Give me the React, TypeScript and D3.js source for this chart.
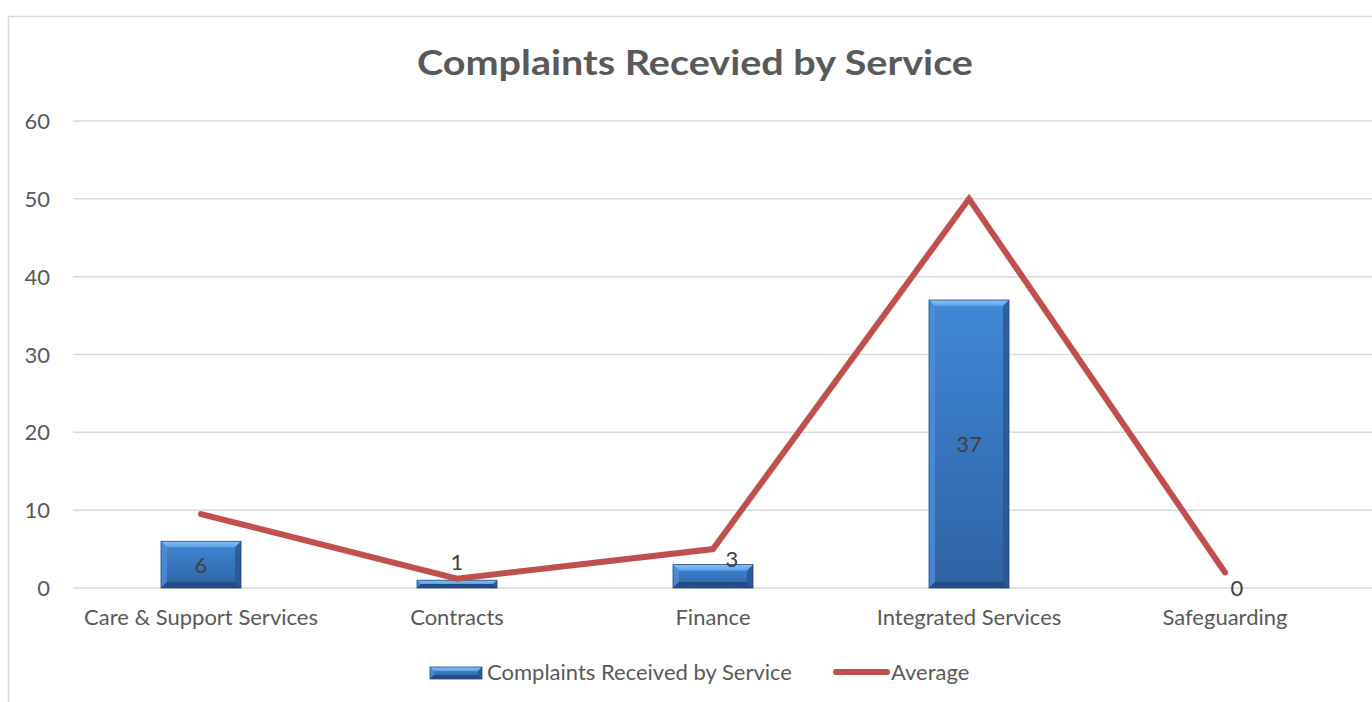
import React from "react";
import * as d3 from "d3";

const categories = ["Care & Support Services", "Contracts", "Finance", "Integrated Services", "Safeguarding"];
const complaints = [6, 1, 3, 37, 0];
const average = [9.5, 1.2, 5, 50, 2];
const yTicks = [0, 10, 20, 30, 40, 50, 60];
const title = "Complaints Recevied by Service";
const legendLabels = ["Complaints Received by Service", "Average"];

const W = 1372;
const H = 702;
const FONT = "Lato, 'Open Sans', sans-serif";
const TEXT = "#595959";

function Bevel({ x0, y0, w, h, b }: { x0: number; y0: number; w: number; h: number; b: number }) {
  const y1 = y0 + h;
  return (
    <g>
      <rect x={x0} y={y0} width={w} height={h} fill="url(#barG)" />
      <polygon points={`${x0},${y0} ${x0 + w},${y0} ${x0 + w - b},${y0 + b} ${x0 + b},${y0 + b}`} fill="url(#bevTop)" />
      <polygon points={`${x0},${y0} ${x0 + b},${y0 + b} ${x0 + b},${y1 - b} ${x0},${y1}`} fill="#4d8fd8" opacity={0.8} />
      <polygon points={`${x0 + w},${y0} ${x0 + w - b},${y0 + b} ${x0 + w - b},${y1 - b} ${x0 + w},${y1}`} fill="#2a5590" opacity={0.8} />
      <polygon points={`${x0},${y1} ${x0 + b},${y1 - b} ${x0 + w - b},${y1 - b} ${x0 + w},${y1}`} fill="#244d85" />
      <rect x={x0} y={y0} width={w} height={h} fill="none" stroke="#1f4a80" strokeWidth={0.8} />
    </g>
  );
}

export default function App() {
  const left = 73, right = 1353, top = 121, bottom = 588;
  const x = d3.scaleBand<string>().domain(categories).range([left, right]).padding(0);
  const y = d3.scaleLinear().domain([0, 60]).range([bottom, top]);
  const bw = x.bandwidth() * 0.3125;
  const cx = (c: string) => (x(c) as number) + x.bandwidth() / 2;
  const line = d3.line<number>().x((_, i) => cx(categories[i])).y((d) => y(d));

  return (
    <svg width={W} height={H} style={{ position: "absolute", left: 0, top: 0 }} fontFamily={FONT}>
      <defs>
        <linearGradient id="barG" x1="0" y1="0" x2="0" y2="1">
          <stop offset="0" stopColor="#3f88d8" />
          <stop offset="1" stopColor="#2f62a3" />
        </linearGradient>
        <linearGradient id="bevTop" x1="0" y1="0" x2="0" y2="1">
          <stop offset="0" stopColor="#8cc2f5" />
          <stop offset="1" stopColor="#5d9fe6" />
        </linearGradient>
      </defs>
      <rect x={8.5} y={16.5} width={1400} height={720} fill="#fff" stroke="#d9d9d9" strokeWidth={1.5} />
      <text x={417} y={75} textLength={556} lengthAdjust="spacingAndGlyphs" fontSize={34} fontWeight={700} fill={TEXT}>{title}</text>

      {yTicks.map((t) => (
        <g key={t}>
          <line x1={left} x2={right + 19} y1={y(t)} y2={y(t)} stroke="#d9d9d9" strokeWidth={1.5} />
          <text x={50} y={y(t) + 8} textAnchor="end" fontSize={22} fill={TEXT}>{t}</text>
        </g>
      ))}

      {categories.map((c, i) => {
        const v = complaints[i];
        const x0 = cx(c) - bw / 2;
        const y0 = y(v);
        const h = bottom - y0;
        return h > 0 ? <Bevel key={c} x0={x0} y0={y0} w={bw} h={h} b={Math.min(6, h / 2)} /> : null;
      })}

      <path d={line(average) as string} fill="none" stroke="#c0504d" strokeWidth={6} strokeLinejoin="miter" strokeLinecap="round" />

      {categories.map((c, i) => {
        const v = complaints[i];
        const h = bottom - y(v);
        let lx = cx(c);
        let ly = y(v / 2) + 8;
        if (h < 40) {
          ly = Math.min(y(v) - 10, bottom - 18) + (v === 0 ? 26 : 0);
          if (v > 1) { lx += 19; ly = y(v) + 2; }
          if (v === 0) lx += 12;
        }
        return (
          <text key={c} x={lx} y={ly} textAnchor="middle" fontSize={22} fill="#404040">{v}</text>
        );
      })}

      {categories.map((c) => (
        <text key={c} x={cx(c)} y={625} textAnchor="middle" fontSize={22} fill={TEXT}>{c}</text>
      ))}

      <g>
        <Bevel x0={430} y0={667} w={52} h={12} b={4} />
        <text x={487} y={680} fontSize={22} fill={TEXT}>{legendLabels[0]}</text>
        <line x1={836} x2={887} y1={672} y2={672} stroke="#c0504d" strokeWidth={6} strokeLinecap="round" />
        <text x={891} y={680} fontSize={22} fill={TEXT}>{legendLabels[1]}</text>
      </g>
    </svg>
  );
}
